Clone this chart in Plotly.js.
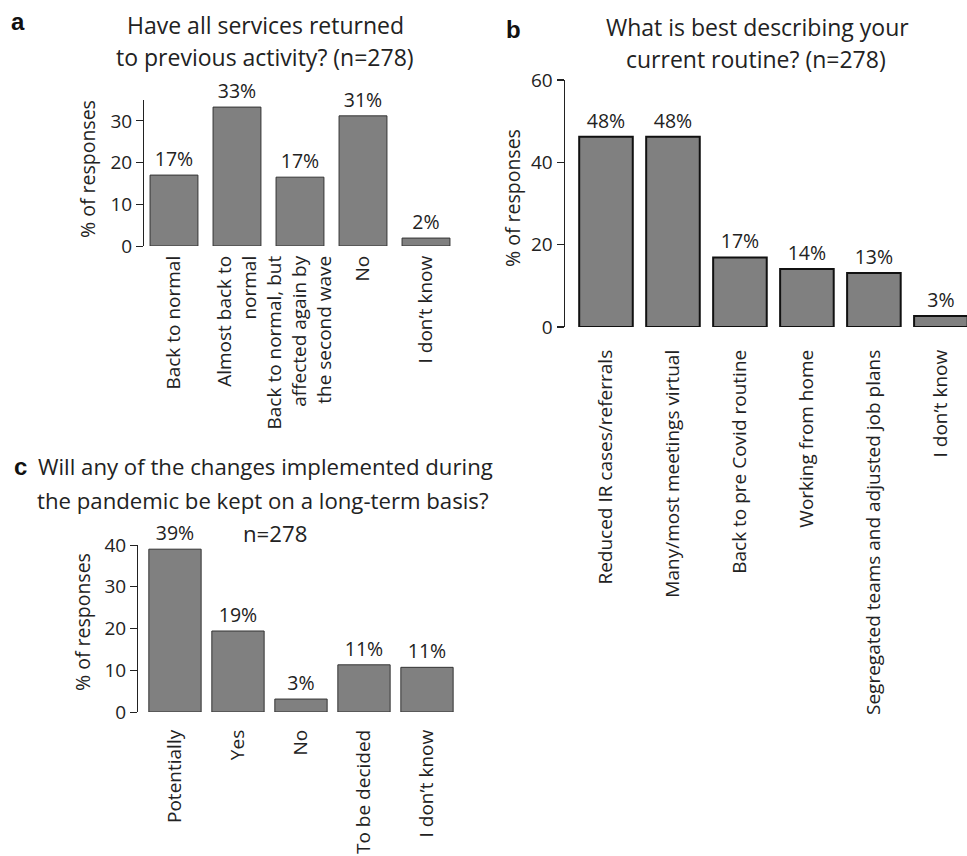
<!DOCTYPE html>
<html><head><meta charset="utf-8">
<script src="https://cdn.plot.ly/plotly-3.0.1.min.js"></script>
<style>html,body{margin:0;padding:0;background:#fff}</style>
</head><body><div id="chart" style="width:967px;height:856px"></div>
<script>
// Panel a
const catsA = ['Back to normal', 'Almost back to<br>normal', 'Back to normal, but<br>affected again by<br>the second wave', 'No', 'I don\u2019t know'];
const valsA = [17.0, 33.3, 16.5, 31.2, 1.9];
const labelsA = ['17%', '33%', '17%', '31%', '2%'];
// Panel b
const catsB = ['Reduced IR cases/referrals', 'Many/most meetings virtual', 'Back to pre Covid routine', 'Working from home', 'Segregated teams and adjusted job plans', 'I don\u2019t know'];
const valsB = [46.2, 46.2, 16.9, 14.1, 13.1, 2.7];
const labelsB = ['48%', '48%', '17%', '14%', '13%', '3%'];
// Panel c
const catsC = ['Potentially', 'Yes', 'No', 'To be decided', 'I don\u2019t know'];
const valsC = [39.0, 19.4, 3.1, 11.3, 10.7];
const labelsC = ['39%', '19%', '3%', '11%', '11%'];

const FONT = 'Open Sans, sans-serif';
const TXT = '#222';
const W = 967, H = 856;
const px = x => x / W;
const py = y => (H - y) / H;

function barTrace(cats, vals, labels, xa, ya, width, lw, lc) {
  return {
    type: 'bar', x: cats, y: vals, text: labels, xaxis: xa, yaxis: ya,
    textposition: 'outside', cliponaxis: false, width: width,
    textfont: {family: FONT, size: 19.5, color: TXT},
    marker: {color: '#808080', line: {color: lc, width: lw}},
    hoverinfo: 'skip'
  };
}

const data = [
  barTrace(catsA, valsA, labelsA, 'x', 'y', 0.76, 1, '#333'),
  barTrace(catsB, valsB, labelsB, 'x2', 'y2', 0.8, 2, '#111'),
  barTrace(catsC, valsC, labelsC, 'x3', 'y3', 0.83, 1, '#333')
];

function xax(domain, range, standoff, anchor) {
  return {domain: domain, range: range, anchor: anchor, type: 'category', showline: false, ticks: '',
    showgrid: false, zeroline: false, tickangle: -90, ticklabelstandoff: standoff,
    tickfont: {family: FONT, size: 19, color: TXT}, fixedrange: true};
}
function yax(domain, range, dtick, anchor, lw) {
  return {domain: domain, range: range, dtick: dtick, anchor: anchor, showline: true,
    linecolor: '#222', linewidth: lw, ticks: 'outside', ticklen: 7, tickcolor: '#222', tickwidth: lw,
    showgrid: false, zeroline: false, tickfont: {family: FONT, size: 19, color: TXT}};
}

function ann(text, x, y, size, opts) {
  return Object.assign({text: text, x: px(x), y: py(y), xref: 'paper', yref: 'paper',
    showarrow: false, xanchor: 'center', yanchor: 'middle',
    font: {family: FONT, size: size, color: TXT}}, opts || {});
}
const LET = {family: 'Liberation Sans, Arial', size: 24, color: '#111'};

const layout = {
  width: W, height: H, margin: {l: 0, r: 0, t: 0, b: 0},
  paper_bgcolor: '#fff', plot_bgcolor: '#fff', showlegend: false, bargap: 0.2,
  xaxis: xax([px(144), px(457.5)], [-0.476, 4.5], 5, 'y'),
  yaxis: yax([py(246), py(100)], [0, 35], 10, 'x', 1),
  xaxis2: xax([px(565), 1], [-0.612, 5.39], 18, 'y2'),
  yaxis2: yax([py(327), py(80)], [0, 60], 20, 'x2', 1.5),
  xaxis3: xax([px(138), px(458.5)], [-0.587, 4.5], 13, 'y3'),
  yaxis3: yax([py(712), py(545)], [0, 40], 10, 'x3', 1),
  annotations: [
    ann('<b>a</b>', 18, 21, 24, {font: LET}),
    ann('<b>b</b>', 513, 30, 24, {font: LET}),
    ann('<b>c</b>', 20, 466, 24, {font: LET}),
    ann('Have all services returned', 265, 25, 23),
    ann('to previous activity? (n=278)', 265, 57, 23),
    ann('What is best describing your', 757, 27, 23),
    ann('current routine? (n=278)', 756, 59, 23),
    ann('Will any of the changes implemented during', 265, 467, 22.2),
    ann('the pandemic be kept on a long-term basis?', 263, 500, 22.2),
    ann('n=278', 275, 533, 22.2),
    ann('% of responses', 88, 169, 19.5, {textangle: -90}),
    ann('% of responses', 512, 198, 19.5, {textangle: -90}),
    ann('% of responses', 82, 622, 19.5, {textangle: -90})
  ]
};

Plotly.newPlot('chart', data, layout, {displayModeBar: false, staticPlot: true});
</script></body></html>
